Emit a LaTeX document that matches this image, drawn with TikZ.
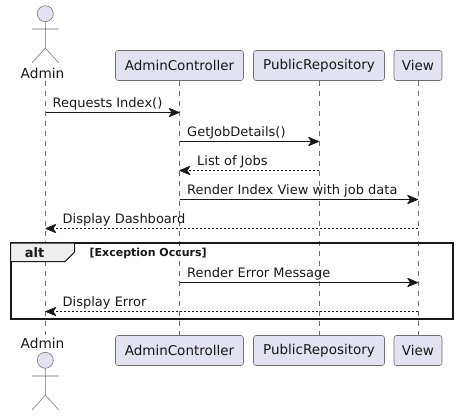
\documentclass[tikz,border=0pt]{standalone}
\usepackage{fontspec}
\setmainfont{DejaVu Sans}
\usetikzlibrary{arrows.meta}
\definecolor{pfill}{HTML}{E2E2F0}
\definecolor{pline}{HTML}{6E6E6E}
\definecolor{ink}{HTML}{181818}
\definecolor{tabfill}{HTML}{EEEEEE}
\tikzset{
  x=1pt,y=-1pt,
  partbox/.style={draw=pline,fill=pfill,rounded corners=2.5pt,line width=0.55pt,minimum height=30pt,inner sep=0pt,font=\fontsize{13.5}{16}\selectfont,text=ink,anchor=center},
  lifeline/.style={draw=pline,line width=0.55pt,dash pattern=on 5pt off 5pt},
  actorline/.style={draw=pline,line width=0.55pt},
  actorhead/.style={circle,draw=pline,fill=pfill,line width=0.55pt,minimum size=16pt,inner sep=0pt},
  actorlabel/.style={inner sep=0pt,font=\fontsize{13.7}{16}\selectfont,text=ink},
  msg/.style={draw=ink,line width=0.8pt,-{Stealth[length=12pt,width=10pt,inset=3.5pt,round]}},
  reply/.style={msg,dash pattern=on 2pt off 2pt},
  msglabel/.style={inner sep=0pt,anchor=base west,font=\fontsize{13}{15}\selectfont,text=ink},
  framebox/.style={draw=ink,line width=2pt},
  tabshape/.style={draw=ink,fill=tabfill,line width=1pt},
  framelabel/.style={inner sep=0pt,font=\bfseries\fontsize{13}{15}\selectfont,text=ink},
  guardlabel/.style={inner sep=0pt,anchor=base west,font=\bfseries\fontsize{11}{13}\selectfont,text=ink}
}
\begin{document}
\begin{tikzpicture}
\useasboundingbox (0,0) rectangle (457,416);
% participants
\node[partbox,minimum width=128pt] (ctlT) at (179.5,65.5) {AdminController};
\node[partbox,minimum width=131pt] (repT) at (319,65.5) {PublicRepository};
\node[partbox,minimum width=48pt] (vieT) at (418,65.5) {View};
\node[partbox,minimum width=128pt] (ctlB) at (179.5,350.5) {AdminController};
\node[partbox,minimum width=131pt] (repB) at (319,350.5) {PublicRepository};
\node[partbox,minimum width=48pt] (vieB) at (418,350.5) {View};
\node[actorlabel] (admT) at (42.5,73) {Admin};
\node[actorlabel] (admB) at (42.5,343) {Admin};
\coordinate (admTl) at (45.5,81);
\coordinate (admBl) at (45.5,335);
% lifelines
\draw[lifeline] (admTl) -- (admBl);
\draw[lifeline] (ctlT.south) -- (ctlB.north);
\draw[lifeline] (repT.south) -- (repB.north);
\draw[lifeline] (vieT.south) -- (vieB.north);
% actors
\node[actorhead] (headT) at (45.3,13.7) {};
\coordinate (hipT) at (45.3,48);
\coordinate (armTl) at (32,29);
\coordinate (armTr) at (58.7,29);
\coordinate (legTl) at (32,63);
\coordinate (legTr) at (58.7,63);
\draw[actorline] (headT.south) -- (hipT) (armTl) -- (armTr) (legTl) -- (hipT) -- (legTr);
\node[actorhead] (headB) at (45.3,360.3) {};
\coordinate (hipB) at (45.3,395);
\coordinate (armBl) at (32,376);
\coordinate (armBr) at (58.7,376);
\coordinate (legBl) at (32,410);
\coordinate (legBr) at (58.7,410);
\draw[actorline] (headB.south) -- (hipB) (armBl) -- (armBr) (legBl) -- (hipB) -- (legBr);
% message ends
\foreach \n/\y in {1/112.5,2/141.5,3/170.5,4/199.5,5/228.5,6/282.5,7/311.5}{
  \coordinate (a\n) at (45.5,\y);
  \coordinate (c\n) at (179.5,\y);
  \coordinate (r\n) at (319,\y);
  \coordinate (v\n) at (418,\y);
}
% alt frame
\draw[framebox] (10.5,243.2) rectangle (452.8,319);
\draw[tabshape] (10.5,243.2) -- (74.5,243.2) -- (74.5,252) -- (65,261.7) -- (10.5,261.7) -- cycle;
\node[framelabel] (alt) at (34.5,252.5) {alt};
\node[guardlabel] (guard) at (89.5,256) {[Exception Occurs]};
% messages
\draw[msg] (a1) -- (c1);
\node[msglabel] (l1) at (52.5,107) {Requests Index()};
\draw[msg] (c2) -- (r2);
\node[msglabel] (l2) at (187,136) {GetJobDetails()};
\draw[reply] (r3) -- (c3);
\node[msglabel] (l3) at (197,165) {List of Jobs};
\draw[msg] (c4) -- (v4);
\node[msglabel] (l4) at (187,194) {Render Index View with job data};
\draw[reply] (v5) -- (a5);
\node[msglabel] (l5) at (62.5,223) {Display Dashboard};
\draw[msg] (c6) -- (v6);
\node[msglabel] (l6) at (187,277) {Render Error Message};
\draw[reply] (v7) -- (a7);
\node[msglabel] (l7) at (62.5,306) {Display Error};
\end{tikzpicture}
\end{document}
